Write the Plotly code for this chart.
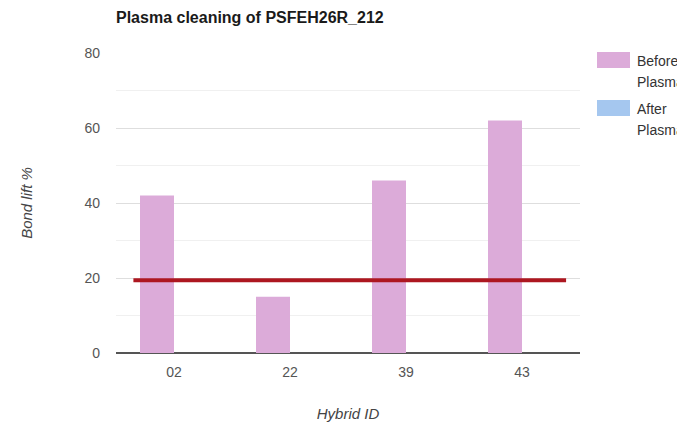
import plotly.graph_objects as go

hybrid_ids = ["02", "22", "39", "43"]
before_plasma = [42, 15, 46, 62]
after_plasma = [None, None, None, None]
threshold = 19.4
threshold_span = [-0.35, 3.38]
y_ticks = [0, 20, 40, 60, 80]
series_names = ["Before Plasma", "After Plasma"]
series_colors = ["#dcabd9", "#a5c7ef"]

x_pos = list(range(len(hybrid_ids)))

# layout geometry (pixels in figure coordinates)
W, H = 685, 422
L, R, T, B = 108, 113, 45, 77
PW, PH = W - L - R, H - T - B


def px(x):
    return (x - L) / PW


def py(y):
    return 1 - (y - T) / PH


fig = go.Figure()
fig.add_trace(go.Bar(x=x_pos, y=before_plasma, name=series_names[0],
                     marker=dict(color=series_colors[0], line=dict(width=0))))
fig.add_trace(go.Bar(x=x_pos, y=after_plasma, name=series_names[1],
                     marker=dict(color=series_colors[1], line=dict(width=0))))
fig.add_trace(go.Scatter(x=threshold_span, y=[threshold, threshold], mode="lines",
                         line=dict(color="#ad1720", width=4), showlegend=False,
                         hoverinfo="skip"))

# custom legend (wide swatches, wrapped labels)
shapes = []
annotations = []
for i, (name, col) in enumerate(zip(series_names, series_colors)):
    top = 44 + i * 48
    shapes.append(dict(type="rect", xref="paper", yref="paper",
                       x0=px(589), x1=px(622), y0=py(top), y1=py(top + 16),
                       fillcolor=col, line=dict(width=0)))
    for j, word in enumerate(name.split(" ")):
        annotations.append(dict(xref="paper", yref="paper", x=px(628), y=py(top + 9 + j * 21),
                                xanchor="left", yanchor="middle", showarrow=False,
                                borderpad=0, text=word, font=dict(size=14, color="#333")))

fig.update_layout(
    width=W, height=H,
    margin=dict(l=L, r=R, t=T, b=B, autoexpand=False),
    paper_bgcolor="white", plot_bgcolor="white",
    barmode="group", bargap=0.414, bargroupgap=0,
    font=dict(family="Liberation Sans, Arial, sans-serif", color="#444"),
    title=dict(text="<b>Plasma cleaning of PSFEH26R_212</b>", x=L / W, xanchor="left",
               y=1 - 9 / H, yanchor="middle", font=dict(size=16, color="#1a1a1a")),
    showlegend=False,
    shapes=shapes,
    annotations=annotations,
)
fig.update_xaxes(range=[-0.5, 3.5], tickvals=x_pos, ticktext=hybrid_ids,
                 showgrid=False, zeroline=False, showline=False, ticks="",
                 tickfont=dict(size=14, color="#555"), ticklabelstandoff=9,
                 title=dict(text="<i>Hybrid ID</i>", font=dict(size=15, color="#444"), standoff=29))
fig.update_yaxes(range=[0, 80], tickvals=y_ticks, showgrid=True, gridcolor="#dedede",
                 gridwidth=1, zeroline=True, zerolinecolor="#555", zerolinewidth=2,
                 ticks="", tickfont=dict(size=14, color="#555"), ticklabelstandoff=15,
                 minor=dict(dtick=10, showgrid=True, gridcolor="#f0f0f0", gridwidth=1),
                 title=dict(text="<i>Bond lift %</i>", font=dict(size=15, color="#444"), standoff=48))

fig.write_html("out.html")
